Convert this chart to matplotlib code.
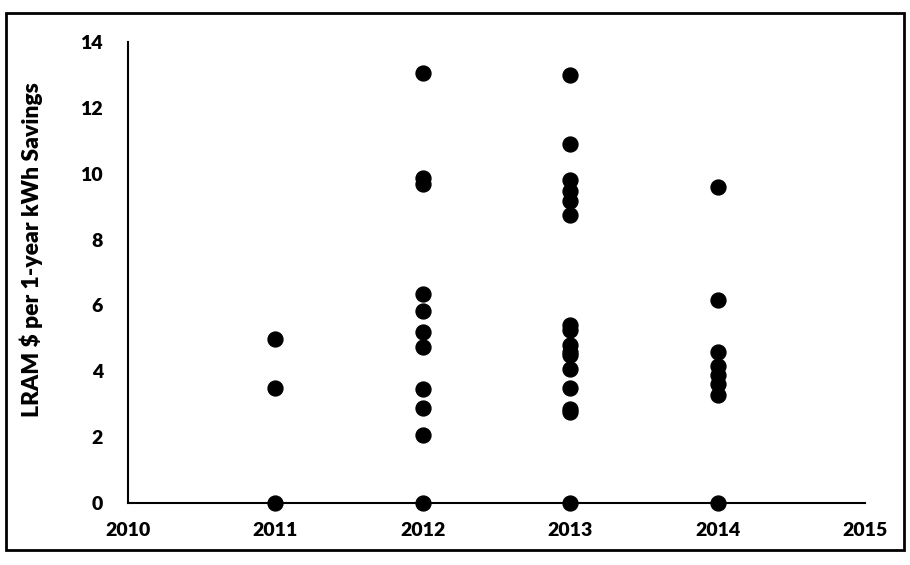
import matplotlib
matplotlib.use("Agg")
import matplotlib.pyplot as plt
from matplotlib.patches import Rectangle

# values
years_2011 = [2011, 2011, 2011]
lram_2011 = [4.99, 3.5, 0.0]

years_2012 = [2012] * 11
lram_2012 = [13.07, 9.88, 9.7, 6.34, 5.84, 5.19, 4.75, 3.47, 2.87, 2.06, 0.0]

years_2013 = [2013] * 16
lram_2013 = [13.0, 10.9, 9.81, 9.46, 9.16, 8.74,
             5.4, 5.25, 4.8, 4.6, 4.5, 4.07, 3.5, 2.86, 2.75, 0.0]

years_2014 = [2014] * 8
lram_2014 = [9.6, 6.17, 4.6, 4.17, 3.88, 3.6, 3.27, 0.0]

x_ticks = [2010, 2011, 2012, 2013, 2014, 2015]
y_ticks = [0, 2, 4, 6, 8, 10, 12, 14]
y_label = "LRAM $ per 1-year kWh Savings"

plt.rcParams['font.family'] = ['Lato', 'DejaVu Sans']
plt.rcParams['font.weight'] = 'heavy'

fig = plt.figure(figsize=(9.1, 5.65), dpi=100)
# outer chart border
fig.patches.append(Rectangle((6 / 910, 1 - 550 / 565), 898 / 910, 537 / 565,
                             transform=fig.transFigure, fill=False,
                             edgecolor='black', linewidth=2))

ax = fig.add_axes([128 / 910, 1 - 503 / 565, 737 / 910, 461 / 565])

xs = years_2011 + years_2012 + years_2013 + years_2014
ys = lram_2011 + lram_2012 + lram_2013 + lram_2014
ax.scatter(xs, ys, s=115, color='black', zorder=3, clip_on=False)

ax.set_xlim(2010, 2015)
ax.set_ylim(0, 14)
ax.set_xticks(x_ticks)
ax.set_yticks(y_ticks)
ax.set_xticklabels([str(t) for t in x_ticks], fontsize=14, fontweight='heavy')
ax.set_yticklabels([str(t) for t in y_ticks], fontsize=14, fontweight='heavy')
ax.tick_params(axis='x', length=0, pad=14)
ax.tick_params(axis='y', length=0, pad=18)

for side in ['top', 'right']:
    ax.spines[side].set_visible(False)
for side in ['left', 'bottom']:
    ax.spines[side].set_linewidth(1.5)

ax.set_ylabel(y_label, fontsize=16.5, fontweight='heavy')
ax.yaxis.set_label_coords(-0.115, 0.55)

fig.savefig("out.png", dpi=100)
